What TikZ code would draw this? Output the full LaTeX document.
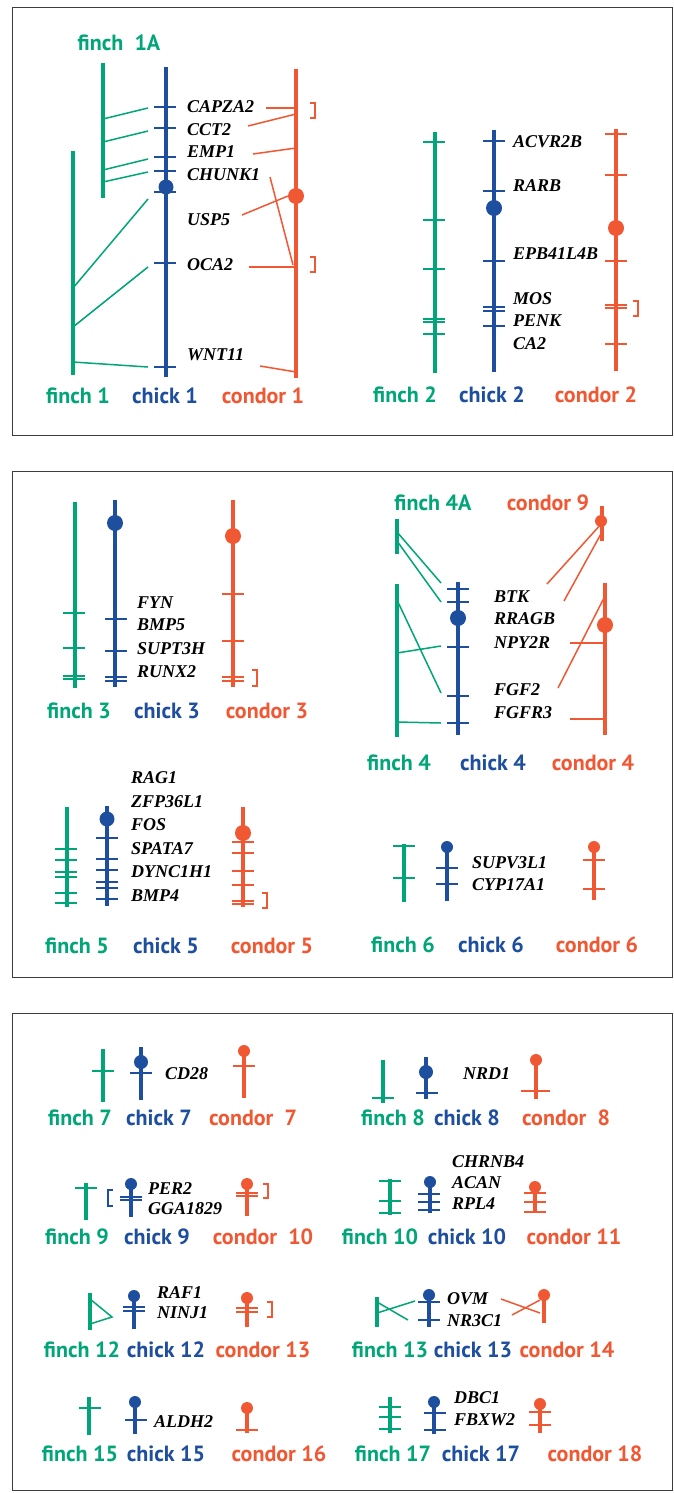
\documentclass[tikz,border=0pt]{standalone}
\usepackage{fontspec}
\setmainfont{Liberation Serif}
\newfontfamily\labf{PT Sans}
\definecolor{fg}{RGB}{0,166,120}
\definecolor{cb}{RGB}{30,78,158}
\definecolor{cr}{RGB}{240,88,52}
\definecolor{boxc}{RGB}{60,60,60}
\tikzset{
  chrl/.style={line width=3.6pt},
  tkl/.style={line width=2pt},
  conl/.style={line width=1.5pt},
  brl/.style={line width=1.5pt},
  gene/.style={font=\fontsize{18}{18}\selectfont\bfseries\itshape, inner sep=0pt, anchor=west},
  lab/.style={font=\labf\fontsize{22}{22}\selectfont\bfseries, inner sep=0pt},
  panel/.style={draw=boxc, line width=1pt}
}
\newcommand\chrom[4]{\draw[#1,chrl] (#2,#3) -- (#2,#4);}
\newcommand\tkk[3]{\draw[#1,tkl] ({#2-11},#3) -- ({#2+11},#3);}
\newcommand\cmere[4]{\fill[#1] (#2,#3) circle[radius=#4];}
\newcommand\rbr[4]{\draw[#1,brl] (#2,#3) -- ++(5,0) |- (#2,#4);}
\newcommand\lbr[4]{\draw[#1,brl] (#2,#3) -- ++(-5,0) |- (#2,#4);}
\begin{document}
\begin{tikzpicture}[x=1pt,y=-1pt]
\useasboundingbox (0,0) rectangle (674,1493);
\fill[white] (0,0) rectangle (674,1493);
% panels
\draw[panel] (12,8) rectangle (672,435);
\draw[panel] (12,471) rectangle (672,977);
\draw[panel] (12,1013) rectangle (672,1490);

%%%%%%%%%%%% PANEL 1 left
\node[lab,text=fg] (f1a) at (119,43) {finch\ \ 1A};
\chrom{fg}{103}{63}{198}
\chrom{fg}{73}{151}{375}
\chrom{cb}{166}{67}{377}
\foreach \y in {107,128,157,171,192,263,367} {\tkk{cb}{165}{\y}}
\cmere{cb}{166}{187}{7.5}
\chrom{cr}{296}{69}{378}
\cmere{cr}{296}{196}{8}
\draw[fg,conl] (103,119) -- (148,108);
\draw[fg,conl] (103,142) -- (148,131);
\draw[fg,conl] (103,170) -- (148,159);
\draw[fg,conl] (103,182) -- (148,172);
\draw[fg,conl] (73,288) -- (148,199);
\draw[fg,conl] (73,327) -- (148,267);
\draw[fg,conl] (73,362) -- (148,367);
\node[gene] (capza2) at (187,107) {CAPZA2};
\node[gene] (cct2) at (187,130) {CCT2};
\node[gene] (emp1) at (187,152) {EMP1};
\node[gene] (chunk1) at (187,175) {CHUNK1};
\node[gene] (usp5) at (187,220) {USP5};
\node[gene] (oca2) at (187,265) {OCA2};
\node[gene] (wnt11) at (187,355) {WNT11};
\draw[cr,conl] (266,108) -- (296,108);
\draw[cr,conl] (248,126) -- (296,114);
\draw[cr,conl] (253,154) -- (296,148);
\draw[cr,conl] (270,177) -- (293,265);
\draw[cr,conl] (242,215) -- (288,196);
\draw[cr,conl] (249,267) -- (296,267);
\draw[cr,conl] (260,366) -- (296,372);
\rbr{cr}{310}{103}{118}
\rbr{cr}{310}{257}{272}
\node[lab,text=fg] (f1) at (78,396) {finch 1};
\node[lab,text=cb] (c1) at (165,396) {chick 1};
\node[lab,text=cr] (k1) at (263,396) {condor 1};

%%%%%%%%%%%% PANEL 1 right
\chrom{fg}{435}{132}{373}
\foreach \y in {142,220,269,319,322,334} {\tkk{fg}{434}{\y}}
\chrom{cb}{494}{130}{372}
\foreach \y in {141,191,261,307,311,326} {\tkk{cb}{494}{\y}}
\cmere{cb}{494}{208}{8}
\chrom{cr}{616}{129}{371}
\foreach \y in {134,175,261,305,308,344} {\tkk{cr}{616}{\y}}
\cmere{cr}{616}{228}{8}
\rbr{cr}{633}{301}{316}
\node[gene] (acvr2b) at (513,142) {ACVR2B};
\node[gene] (rarb) at (513,186) {RARB};
\node[gene] (epb) at (513,254) {EPB41L4B};
\node[gene] (mos) at (513,299) {MOS};
\node[gene] (penk) at (513,321) {PENK};
\node[gene] (ca2) at (513,344) {CA2};
\node[lab,text=fg] (f2) at (405,395) {finch 2};
\node[lab,text=cb] (c2) at (492,395) {chick 2};
\node[lab,text=cr] (k2) at (596,395) {condor 2};

%%%%%%%%%%%% PANEL 2: chr 3
\chrom{fg}{75}{502}{688}
\foreach \y in {613,648,676,679} {\tkk{fg}{74}{\y}}
\chrom{cb}{115}{500}{687}
\foreach \y in {619,651,677,681} {\tkk{cb}{116}{\y}}
\cmere{cb}{115}{523}{8}
\chrom{cr}{233}{500}{687}
\foreach \y in {594,641,677,681} {\tkk{cr}{233}{\y}}
\cmere{cr}{233}{536}{8}
\rbr{cr}{252}{670}{686}
\node[gene] (fyn) at (137,603) {FYN};
\node[gene] (bmp5) at (137,625) {BMP5};
\node[gene] (supt3h) at (137,649) {SUPT3H};
\node[gene] (runx2) at (137,672) {RUNX2};
\node[lab,text=fg] (f3) at (79,711) {finch 3};
\node[lab,text=cb] (c3) at (167,711) {chick 3};
\node[lab,text=cr] (k3) at (267,711) {condor 3};

%%%%%%%%%%%% PANEL 2: chr 4
\node[lab,text=fg] (f4a) at (433,503) {finch 4A};
\node[lab,text=cr] (k9) at (548,503) {condor 9};
\chrom{fg}{397}{519}{554}
\draw[fg,conl] (397,532) -- (441,583);
\draw[fg,conl] (397,541) -- (441,602);
\chrom{fg}{397}{584}{737}
\draw[fg,conl] (397,600) -- (441,693);
\draw[fg,conl] (397,653) -- (441,646);
\draw[fg,conl] (397,722) -- (441,723);
\chrom{cb}{458}{582}{735}
\foreach \y in {589,602,647,696,723} {\tkk{cb}{458}{\y}}
\cmere{cb}{458}{618}{8}
\node[gene] (btk) at (494,597) {BTK};
\node[gene] (rragb) at (494,619) {RRAGB};
\node[gene] (npy2r) at (494,643) {NPY2R};
\node[gene] (fgf2) at (494,690) {FGF2};
\node[gene] (fgfr3) at (494,713) {FGFR3};
\chrom{cr}{602}{506}{541}
\cmere{cr}{601}{521}{6}
\draw[cr,conl] (547,584) -- (602,523);
\draw[cr,conl] (564,601) -- (602,532);
\chrom{cr}{605}{583}{735}
\cmere{cr}{605}{625}{8}
\draw[cr,conl] (570,643) -- (605,643);
\draw[cr,conl] (558,688) -- (605,596);
\draw[cr,conl] (570,719) -- (605,719);
\node[lab,text=fg] (f4) at (399,763) {finch 4};
\node[lab,text=cb] (c4) at (493,763) {chick 4};
\node[lab,text=cr] (k4) at (593,763) {condor 4};

%%%%%%%%%%%% PANEL 2: chr 5
\chrom{fg}{67}{807}{907}
\foreach \y in {849,860,872,877,893,903} {\tkk{fg}{66}{\y}}
\chrom{cb}{107}{806}{906}
\foreach \y in {838,859,870,882,888,899} {\tkk{cb}{107}{\y}}
\cmere{cb}{107}{819}{7.5}
\chrom{cr}{243}{807}{907}
\foreach \y in {842,853,871,885,901,904} {\tkk{cr}{243}{\y}}
\cmere{cr}{243}{833}{8}
\rbr{cr}{262}{893}{908}
\node[gene] (rag1) at (131,778) {RAG1};
\node[gene] (zfp) at (131,802) {ZFP36L1};
\node[gene] (fos) at (131,825) {FOS};
\node[gene] (spata7) at (131,849) {SPATA7};
\node[gene] (dync) at (131,872) {DYNC1H1};
\node[gene] (bmp4) at (131,896) {BMP4};
\node[lab,text=fg] (f5) at (77,946) {finch 5};
\node[lab,text=cb] (c5) at (166,946) {chick 5};
\node[lab,text=cr] (k5) at (272,946) {condor 5};

%%%%%%%%%%%% PANEL 2: chr 6
\chrom{fg}{404}{844}{902}
\foreach \y in {846,878} {\tkk{fg}{404}{\y}}
\chrom{cb}{447}{847}{901}
\foreach \y in {868,884} {\tkk{cb}{447}{\y}}
\cmere{cb}{447}{847}{6}
\chrom{cr}{594}{847}{900}
\foreach \y in {860,889} {\tkk{cr}{594}{\y}}
\cmere{cr}{594}{847}{6}
\node[gene] (supv) at (472,863) {SUPV3L1};
\node[gene] (cyp) at (472,885) {CYP17A1};
\node[lab,text=fg] (f6) at (403,945) {finch 6};
\node[lab,text=cb] (c6) at (491,945) {chick 6};
\node[lab,text=cr] (k6) at (597,945) {condor 6};

%%%%%%%%%%%% PANEL 3 row 1
\chrom{fg}{103}{1049}{1102}
\tkk{fg}{103}{1071}
\chrom{cb}{141}{1047}{1100}
\tkk{cb}{141}{1073}
\cmere{cb}{141}{1062}{7}
\chrom{cr}{244}{1051}{1098}
\tkk{cr}{244}{1066}
\cmere{cr}{244}{1051}{6}
\node[gene] (cd28) at (165,1074) {CD28};
\node[lab,text=fg] (f7) at (80,1118) {finch 7};
\node[lab,text=cb] (c7) at (159,1118) {chick 7};
\node[lab,text=cr] (k7) at (253,1118) {condor\ \ 7};

\chrom{fg}{383}{1060}{1103}
\tkk{fg}{383}{1098}
\chrom{cb}{426}{1057}{1099}
\tkk{cb}{427}{1093}
\cmere{cb}{426}{1072}{7}
\chrom{cr}{536}{1060}{1099}
\draw[cr,tkl] (521,1091) -- (550,1091);
\cmere{cr}{536}{1060}{6}
\node[gene] (nrd1) at (463,1074) {NRD1};
\node[lab,text=fg] (f8) at (393,1118) {finch 8};
\node[lab,text=cb] (c8) at (467,1118) {chick 8};
\node[lab,text=cr] (k8) at (566,1118) {condor\ \ 8};

%%%%%%%%%%%% PANEL 3 row 2
\chrom{fg}{86}{1183}{1220}
\tkk{fg}{86}{1188}
\lbr{cb}{113}{1190}{1206}
\chrom{cb}{131}{1184}{1217}
\foreach \y in {1197,1200} {\tkk{cb}{131}{\y}}
\cmere{cb}{131}{1184}{6}
\chrom{cr}{247}{1184}{1216}
\foreach \y in {1193,1196} {\tkk{cr}{247}{\y}}
\cmere{cr}{247}{1184}{6}
\rbr{cr}{263}{1184}{1198}
\node[gene] (per2) at (148,1189) {PER2};
\node[gene] (gga) at (148,1209) {GGA1829};
\node[lab,text=fg] (f9) at (77,1237) {finch 9};
\node[lab,text=cb] (c9) at (157,1237) {chick 9};
\node[lab,text=cr] (k10) at (263,1237) {condor\ \ 10};

\chrom{fg}{390}{1179}{1215}
\foreach \y in {1181,1201,1213} {\tkk{fg}{390}{\y}}
\chrom{cb}{430}{1182}{1213}
\foreach \y in {1194,1202,1210} {\tkk{cb}{429}{\y}}
\cmere{cb}{430}{1182}{6}
\chrom{cr}{535}{1187}{1213}
\foreach \y in {1193,1202,1212} {\tkk{cr}{535}{\y}}
\cmere{cr}{535}{1187}{6}
\node[gene] (chrnb4) at (452,1162) {CHRNB4};
\node[gene] (acan) at (452,1183) {ACAN};
\node[gene] (rpl4) at (452,1204) {RPL4};
\node[lab,text=fg] (f10) at (380,1237) {finch 10};
\node[lab,text=cb] (c10) at (467,1237) {chick 10};
\node[lab,text=cr] (k11) at (574,1237) {condor 11};

%%%%%%%%%%%% PANEL 3 row 3
\chrom{fg}{90}{1293}{1330}
\draw[fg,conl] (90,1299) -- (112,1317) -- (90,1324);
\chrom{cb}{134}{1296}{1329}
\foreach \y in {1307,1311} {\tkk{cb}{134}{\y}}
\cmere{cb}{134}{1296}{6}
\chrom{cr}{247}{1298}{1327}
\foreach \y in {1308,1312} {\tkk{cr}{247}{\y}}
\cmere{cr}{247}{1298}{6}
\rbr{cr}{267}{1302}{1317}
\node[gene] (raf1) at (157,1293) {RAF1};
\node[gene] (ninj1) at (157,1313) {NINJ1};
\node[lab,text=fg] (f12) at (82,1350) {finch 12};
\node[lab,text=cb] (c12) at (166,1350) {chick 12};
\node[lab,text=cr] (k13) at (263,1350) {condor 13};

\chrom{fg}{377}{1297}{1327}
\draw[fg,conl] (377,1313) -- (415,1301);
\draw[fg,conl] (377,1302) -- (408,1320);
\chrom{cb}{429}{1295}{1327}
\foreach \y in {1302,1320} {\tkk{cb}{429}{\y}}
\cmere{cb}{429}{1295}{6}
\chrom{cr}{544}{1295}{1323}
\cmere{cr}{544}{1295}{6}
\draw[cr,conl] (501,1299) -- (540,1313);
\draw[cr,conl] (512,1315) -- (540,1300);
\node[gene] (ovm) at (447,1299) {OVM};
\node[gene] (nr3c1) at (447,1321) {NR3C1};
\node[lab,text=fg] (f13) at (390,1350) {finch 13};
\node[lab,text=cb] (c13) at (473,1350) {chick 13};
\node[lab,text=cr] (k14) at (567,1350) {condor 14};

%%%%%%%%%%%% PANEL 3 row 4
\chrom{fg}{89}{1397}{1435}
\tkk{fg}{90}{1408}
\chrom{cb}{135}{1402}{1434}
\tkk{cb}{136}{1420}
\cmere{cb}{135}{1402}{6}
\chrom{cr}{247}{1408}{1433}
\tkk{cr}{247}{1430}
\cmere{cr}{247}{1408}{6}
\node[gene] (aldh2) at (154,1422) {ALDH2};
\node[lab,text=fg] (f15) at (80,1454) {finch 15};
\node[lab,text=cb] (c15) at (166,1454) {chick 15};
\node[lab,text=cr] (k16) at (279,1454) {condor 16};

\chrom{fg}{390}{1397}{1433}
\foreach \y in {1407,1417,1429} {\tkk{fg}{390}{\y}}
\chrom{cb}{434}{1402}{1434}
\foreach \y in {1413,1430} {\tkk{cb}{435}{\y}}
\cmere{cb}{434}{1402}{6}
\chrom{cr}{540}{1404}{1433}
\foreach \y in {1412,1425} {\tkk{cr}{540}{\y}}
\cmere{cr}{540}{1404}{6}
\node[gene] (dbc1) at (454,1398) {DBC1};
\node[gene] (fbxw2) at (454,1420) {FBXW2};
\node[lab,text=fg] (f17) at (393,1454) {finch 17};
\node[lab,text=cb] (c17) at (481,1454) {chick 17};
\node[lab,text=cr] (k18) at (595,1454) {condor 18};
\end{tikzpicture}
\end{document}
